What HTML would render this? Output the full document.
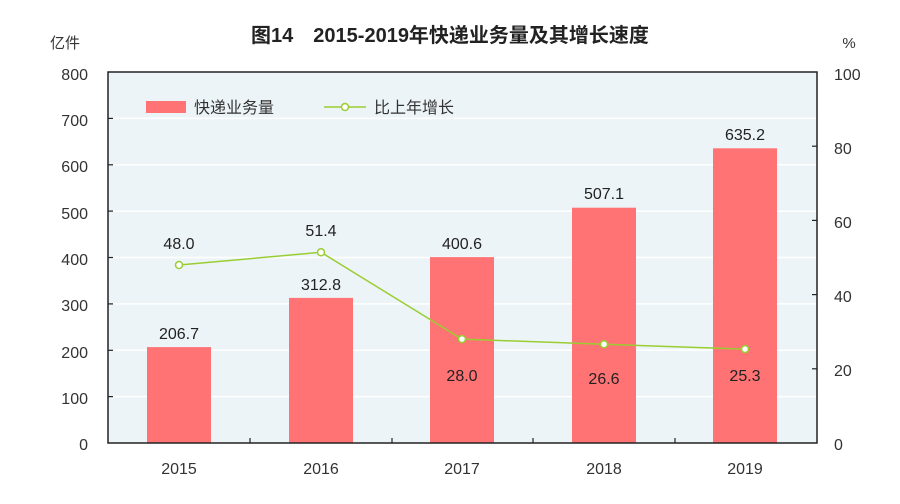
<!DOCTYPE html>
<html><head><meta charset="utf-8"><style>body{margin:0;background:#fff}svg text{font-family:"Liberation Sans","Noto Sans CJK SC",sans-serif}</style></head><body>
<svg width="900" height="499" viewBox="0 0 900 499" xmlns="http://www.w3.org/2000/svg">
<rect width="900" height="499" fill="#fff"/>
<text x="450" y="42" text-anchor="middle" font-size="20" font-weight="bold" fill="#222">图14　2015-2019年快递业务量及其增长速度</text>
<text x="65" y="48" text-anchor="middle" font-size="15" fill="#333">亿件</text>
<text x="849" y="48" text-anchor="middle" font-size="15" fill="#333">%</text>
<rect x="108" y="72" width="709" height="371" fill="#edf4f8"/>
<g stroke="#fff" stroke-width="1.5">
<line x1="108" x2="817" y1="118.4" y2="118.4"/><line x1="108" x2="817" y1="164.8" y2="164.8"/><line x1="108" x2="817" y1="211.1" y2="211.1"/><line x1="108" x2="817" y1="257.5" y2="257.5"/><line x1="108" x2="817" y1="303.9" y2="303.9"/><line x1="108" x2="817" y1="350.3" y2="350.3"/><line x1="108" x2="817" y1="396.6" y2="396.6"/>
</g>
<g fill="#ff7374">
<rect x="147" y="347.1" width="64" height="95.9"/>
<rect x="289" y="297.9" width="64" height="145.1"/>
<rect x="430" y="257.1" width="64" height="185.9"/>
<rect x="572" y="207.7" width="64" height="235.3"/>
<rect x="713" y="148.3" width="64" height="294.7"/>
</g>
<rect x="108" y="72" width="709" height="371" fill="none" stroke="#222" stroke-width="1.5"/>
<g stroke="#222" stroke-width="1.2">
<line x1="108" x2="113" y1="118.4" y2="118.4"/><line x1="108" x2="113" y1="164.8" y2="164.8"/><line x1="108" x2="113" y1="211.1" y2="211.1"/><line x1="108" x2="113" y1="257.5" y2="257.5"/><line x1="108" x2="113" y1="303.9" y2="303.9"/><line x1="108" x2="113" y1="350.3" y2="350.3"/><line x1="108" x2="113" y1="396.6" y2="396.6"/>
<line x1="812" x2="817" y1="146.2" y2="146.2"/><line x1="812" x2="817" y1="220.4" y2="220.4"/><line x1="812" x2="817" y1="294.6" y2="294.6"/><line x1="812" x2="817" y1="368.8" y2="368.8"/>
<line x1="250" x2="250" y1="438" y2="443"/><line x1="392" x2="392" y1="438" y2="443"/><line x1="533" x2="533" y1="438" y2="443"/><line x1="675" x2="675" y1="438" y2="443"/>
</g>
<g font-size="16" fill="#333" text-anchor="end">
<text x="88" y="80">800</text><text x="88" y="126">700</text><text x="88" y="172">600</text><text x="88" y="219">500</text><text x="88" y="265">400</text><text x="88" y="311">300</text><text x="88" y="358">200</text><text x="88" y="404">100</text><text x="88" y="450">0</text>
</g>
<g font-size="16" fill="#333">
<text x="834" y="80">100</text><text x="834" y="154">80</text><text x="834" y="228">60</text><text x="834" y="302">40</text><text x="834" y="376">20</text><text x="834" y="450">0</text>
</g>
<g font-size="16" fill="#333" text-anchor="middle">
<text x="179" y="474">2015</text><text x="321" y="474">2016</text><text x="462" y="474">2017</text><text x="604" y="474">2018</text><text x="745" y="474">2019</text>
</g>
<polyline points="179,265 321,252.3 462,339.1 604,344.3 745,349.1" fill="none" stroke="#9acd32" stroke-width="1.5"/>
<g fill="#fff" stroke="#9acd32" stroke-width="1.5">
<circle cx="179" cy="265" r="3.5"/><circle cx="321" cy="252.3" r="3.5"/><circle cx="462" cy="339.1" r="3.5"/><circle cx="604" cy="344.3" r="3.5"/><circle cx="745" cy="349.1" r="3.5"/>
</g>
<g font-size="16" fill="#222" text-anchor="middle" font-family="Liberation Mono">
<text x="179" y="339">206.7</text><text x="321" y="290">312.8</text><text x="462" y="249">400.6</text><text x="604" y="199">507.1</text><text x="745" y="140">635.2</text>
<text x="179" y="249">48.0</text><text x="321" y="236">51.4</text><text x="462" y="381">28.0</text><text x="604" y="384">26.6</text><text x="745" y="381">25.3</text>
</g>
<rect x="146" y="101" width="40" height="12" fill="#ff7374"/>
<text x="194" y="113" font-size="16" fill="#333">快递业务量</text>
<line x1="324" x2="366" y1="107" y2="107" stroke="#9acd32" stroke-width="1.5"/>
<circle cx="345" cy="107" r="3.5" fill="#fff" stroke="#9acd32" stroke-width="1.5"/>
<text x="374" y="113" font-size="16" fill="#333">比上年增长</text>
</svg>
</body></html>
